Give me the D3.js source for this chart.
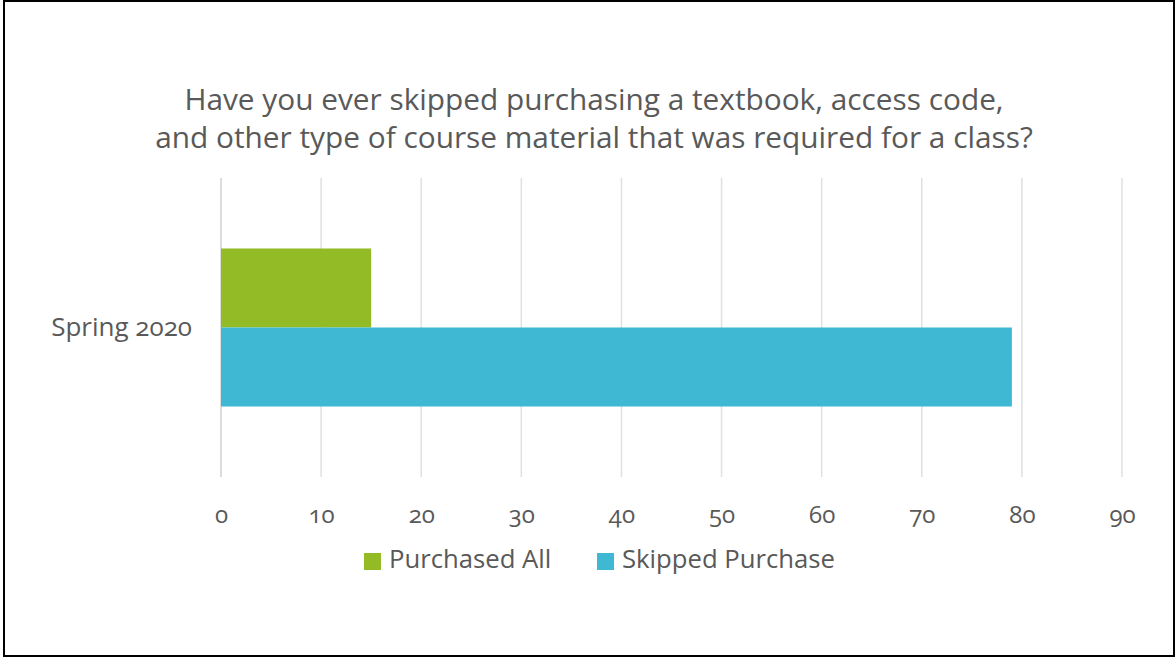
<!DOCTYPE html>
<html>
<head>
<meta charset="utf-8">
<script src="https://cdn.jsdelivr.net/npm/d3@7"></script>
<style>
  body { margin: 0; background: #fff; }
  svg text { font-family: "Open Sans", "Noto Sans", sans-serif; fill: #595959; font-variant-numeric: oldstyle-nums; }
</style>
</head>
<body>
<div class="chart"></div>
<script>
const categories = ["Spring 2020"];
const seriesNames = ["Purchased All", "Skipped Purchase"];
const purchasedAll = [15];
const skippedPurchase = [79];
const xTicks = [0, 10, 20, 30, 40, 50, 60, 70, 80, 90];
const titleLines = [
  "Have you ever skipped purchasing a textbook, access code,",
  "and other type of course material that was required for a class?"
];

const width = 1176, height = 658;
const colors = d3.scaleOrdinal().domain(seriesNames).range(["#92bb25", "#3fb8d3"]);

const svg = d3.select(".chart").append("svg")
  .attr("width", width)
  .attr("height", height);

// outer frame
svg.append("rect")
  .attr("x", 4).attr("y", 1)
  .attr("width", 1170).attr("height", 655)
  .attr("fill", "none")
  .attr("stroke", "#000")
  .attr("stroke-width", 2);

const x = d3.scaleLinear().domain([0, 90]).range([221, 1122]);
const y = d3.scaleBand().domain(categories).range([178, 477]).paddingInner(0).paddingOuter(0.446);
const ySeries = d3.scaleBand().domain(seriesNames).range([0, y.bandwidth()]);

// title
svg.append("g").selectAll("text")
  .data(titleLines)
  .enter().append("text")
  .attr("x", 594)
  .attr("y", (d, i) => 110 + i * 38)
  .attr("text-anchor", "middle")
  .style("font-size", "29.8px")
  .text(d => d);

// gridlines
svg.append("g").selectAll("line")
  .data(xTicks)
  .enter().append("line")
  .attr("x1", d => x(d)).attr("x2", d => x(d))
  .attr("y1", 178).attr("y2", 477)
  .attr("stroke", d => d === 0 ? "#d0d0d0" : "#e0e0e0")
  .attr("stroke-width", 1.5);

// x axis labels
const xAxis = svg.append("g")
  .attr("transform", "translate(0,477)")
  .call(d3.axisBottom(x).tickValues(xTicks).tickSize(0));
xAxis.select(".domain").remove();
xAxis.selectAll("text")
  .attr("y", 46).attr("dy", null)
  .attr("fill", null)
  .style("font-size", "24px");

// category labels
svg.append("g").selectAll("text")
  .data(categories)
  .enter().append("text")
  .attr("x", 192)
  .attr("y", d => y(d) + y.bandwidth() / 2 + 8)
  .attr("text-anchor", "end")
  .style("font-size", "26px")
  .text(d => d);

// bars
const rows = categories.map((c, i) => ({
  category: c,
  values: [
    { key: seriesNames[0], value: purchasedAll[i] },
    { key: seriesNames[1], value: skippedPurchase[i] }
  ]
}));

svg.append("g").selectAll("g")
  .data(rows)
  .enter().append("g")
  .attr("transform", d => "translate(0," + y(d.category) + ")")
  .selectAll("rect")
  .data(d => d.values)
  .enter().append("rect")
  .attr("x", x(0))
  .attr("y", d => ySeries(d.key))
  .attr("width", d => x(d.value) - x(0))
  .attr("height", ySeries.bandwidth())
  .attr("fill", d => colors(d.key));

// legend
const legendX = [364, 597];
const legend = svg.append("g").selectAll("g")
  .data(seriesNames)
  .enter().append("g")
  .attr("transform", (d, i) => "translate(" + legendX[i] + ",553)");
legend.append("rect")
  .attr("width", 17).attr("height", 17)
  .attr("fill", d => colors(d));
legend.append("text")
  .attr("x", 25).attr("y", 15)
  .style("font-size", "25.7px")
  .text(d => d);
</script>
</body>
</html>
